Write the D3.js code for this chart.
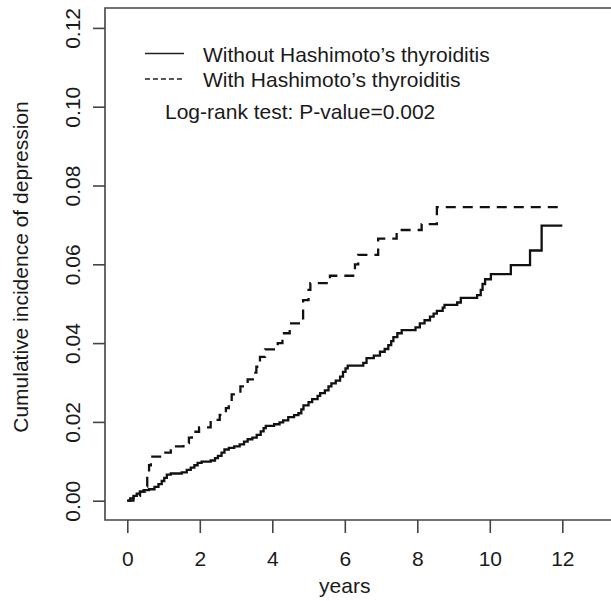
<!DOCTYPE html>
<html>
<head>
<meta charset="utf-8">
<script src="https://cdn.jsdelivr.net/npm/d3@7"></script>
<style>
  body { margin: 0; background: #fff; }
  svg { display: block; font-family: "Liberation Sans", Arial, sans-serif; }
</style>
</head>
<body>
<div id="chart"></div>
<script>
// Datos (años, incidencia acumulada)
const withoutYears = [0, 0.08, 0.17, 0.26, 0.35, 0.45, 0.6, 0.75, 0.86, 0.95, 1.02, 1.09, 1.2, 1.5, 1.64, 1.75, 1.85, 1.94,
  2.05, 2.3, 2.42, 2.5, 2.6, 2.68, 2.8, 2.95, 3.1, 3.22, 3.32, 3.45, 3.57, 3.68, 3.76, 3.82, 4.05, 4.2, 4.3, 4.44,
  4.6, 4.72, 4.8, 4.86, 5.0, 5.1, 5.25, 5.32, 5.45, 5.55, 5.63, 5.75, 5.87, 5.95, 6.02, 6.08, 6.51, 6.6, 6.8, 6.97,
  7.1, 7.2, 7.28, 7.34, 7.45, 7.57, 7.95, 8.07, 8.2, 8.35, 8.45, 8.54, 8.7, 8.75, 9.1, 9.2, 9.65, 9.75, 9.8, 9.87,
  10.03, 10.58, 11.11, 11.43, 12.0];
const withoutValues = [0, 0.0006, 0.0012, 0.0018, 0.0023, 0.0027, 0.0029, 0.0035, 0.0042, 0.005, 0.0058, 0.0066, 0.0069,
  0.0072, 0.0078, 0.0084, 0.009, 0.0096, 0.0099, 0.0102, 0.0108, 0.0114, 0.0122, 0.013, 0.0134, 0.0138, 0.0143, 0.015,
  0.0156, 0.016, 0.0167, 0.0176, 0.0184, 0.019, 0.0194, 0.0199, 0.0204, 0.0212, 0.0217, 0.0222, 0.0232, 0.0242, 0.025,
  0.0258, 0.0266, 0.0273, 0.028, 0.029, 0.0298, 0.0305, 0.0315, 0.0327, 0.0336, 0.0343, 0.035, 0.0362, 0.0368, 0.0378,
  0.0385, 0.0395, 0.0405, 0.0415, 0.0425, 0.0433, 0.044, 0.045, 0.0458, 0.0467, 0.0475, 0.0482, 0.049, 0.0497, 0.0503,
  0.0515, 0.0522, 0.0535, 0.055, 0.0562, 0.0575, 0.0598, 0.0635, 0.0698, 0.0698];

const withYears = [0, 0.17, 0.35, 0.49, 0.55, 0.6, 0.65, 0.99, 1.2, 1.55, 1.7, 1.78, 1.98, 2.3, 2.55, 2.72, 2.8, 2.88,
  3.12, 3.32, 3.5, 3.56, 3.66, 3.8, 4.15, 4.28, 4.48, 4.85, 5.0, 5.05, 5.59, 6.28, 6.37, 6.92, 7.43, 8.12, 8.54, 12.0];
const withValues = [0, 0.0012, 0.0023, 0.0036, 0.0065, 0.009, 0.0112, 0.0122, 0.0138, 0.0146, 0.016, 0.0175, 0.0186,
  0.0205, 0.0218, 0.0235, 0.0252, 0.027, 0.029, 0.0308, 0.0325, 0.034, 0.0365, 0.0384, 0.04, 0.0425, 0.045, 0.0509,
  0.0535, 0.0552, 0.0571, 0.06, 0.0624, 0.0665, 0.0687, 0.0702, 0.0745, 0.0745];

const xTicks = [0, 2, 4, 6, 8, 10, 12];
const yTicks = [0, 0.02, 0.04, 0.06, 0.08, 0.10, 0.12];
const legendLabels = ["Without Hashimoto\u2019s thyroiditis", "With Hashimoto\u2019s thyroiditis"];
const testLabel = "Log-rank test: P-value=0.002";

const width = 611, height = 601;
const box = { left: 105, top: 8, bottom: 520 };
const ink = "#1a1a1a";

const svg = d3.select("#chart").append("svg")
  .attr("width", width)
  .attr("height", height);

// Escalas
const x = d3.scaleLinear().domain([0, 12]).range([127.3, 562.3]);
const y = d3.scaleLinear().domain([0, 0.12]).range([500.7, 27.9]);

// Marco del gráfico (sin lado derecho, queda fuera de la imagen)
svg.append("path")
  .attr("d", `M${width + 2},${box.top}H${box.left}V${box.bottom}H${width + 2}`)
  .attr("fill", "none")
  .attr("stroke", "#444")
  .attr("stroke-width", 1.6);

// Eje Y
const gy = svg.append("g")
  .attr("transform", `translate(${box.left},0)`)
  .call(d3.axisLeft(y).tickValues(yTicks).tickSize(12).tickPadding(0).tickFormat(d3.format(".2f")));
gy.select(".domain").remove();
gy.selectAll(".tick line").attr("stroke", "#444").attr("stroke-width", 1.6);
gy.selectAll(".tick text")
  .attr("x", null).attr("dy", null)
  .attr("transform", "translate(-25,0) rotate(-90)")
  .attr("text-anchor", "middle")
  .attr("fill", ink)
  .attr("font-size", 21)
  .attr("font-family", "Liberation Sans, Arial, sans-serif");

// Eje X
const gx = svg.append("g")
  .attr("transform", `translate(0,${box.bottom})`)
  .call(d3.axisBottom(x).tickValues(xTicks).tickSize(13).tickPadding(0));
gx.select(".domain").remove();
gx.selectAll(".tick line").attr("stroke", "#444").attr("stroke-width", 1.6);
gx.selectAll(".tick text")
  .attr("y", 46).attr("dy", null)
  .attr("fill", ink)
  .attr("font-size", 21)
  .attr("font-family", "Liberation Sans, Arial, sans-serif");

// Títulos de ejes
svg.append("text")
  .attr("x", x(6)).attr("y", 593)
  .attr("text-anchor", "middle")
  .attr("font-size", 21)
  .attr("fill", ink)
  .text("years");

svg.append("text")
  .attr("transform", `translate(28,${(box.top + box.bottom) / 2 + 3}) rotate(-90)`)
  .attr("text-anchor", "middle")
  .attr("font-size", 21)
  .attr("fill", ink)
  .text("Cumulative incidence of depression");

// Curvas escalonadas
const line = d3.line()
  .x(d => x(d[0]))
  .y(d => y(d[1]))
  .curve(d3.curveStepAfter);

svg.append("path")
  .datum(d3.zip(withoutYears, withoutValues))
  .attr("d", line)
  .attr("fill", "none")
  .attr("stroke", "#111")
  .attr("stroke-width", 2.3);

svg.append("path")
  .datum(d3.zip(withYears, withValues))
  .attr("d", line)
  .attr("fill", "none")
  .attr("stroke", "#111")
  .attr("stroke-width", 2.3)
  .attr("stroke-dasharray", "10,7");

// Leyenda
const legendY = [53.5, 79];
const legend = svg.append("g");
legend.selectAll("line")
  .data(legendLabels)
  .enter()
  .append("line")
  .attr("x1", 145).attr("x2", 184)
  .attr("y1", (d, i) => legendY[i]).attr("y2", (d, i) => legendY[i])
  .attr("stroke", "#222")
  .attr("stroke-width", 1.3)
  .attr("stroke-dasharray", (d, i) => i === 1 ? "5,3" : null);

legend.selectAll("text")
  .data(legendLabels)
  .enter()
  .append("text")
  .attr("x", 203)
  .attr("y", (d, i) => legendY[i] + 8)
  .attr("font-size", 21)
  .attr("fill", ink)
  .text(d => d);

svg.append("text")
  .attr("x", 165).attr("y", 119)
  .attr("font-size", 21)
  .attr("fill", ink)
  .text(testLabel);
</script>
</body>
</html>
